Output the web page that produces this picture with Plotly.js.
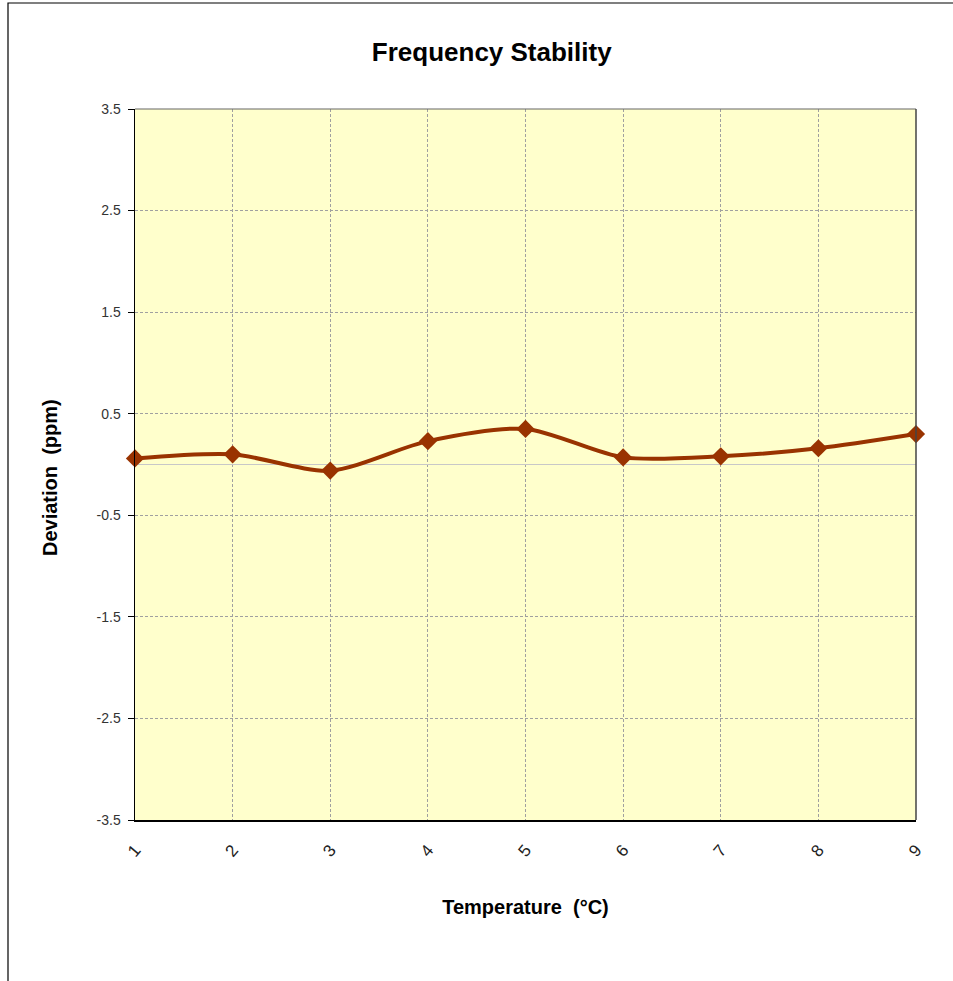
<!DOCTYPE html>
<html><head><meta charset="utf-8">
<script src="https://cdn.plot.ly/plotly-3.0.1.min.js"></script>
<style>body{margin:0;padding:0;background:#fff}#chart{width:953px;height:981px}</style>
</head><body><div id="chart"></div>
<script>
const temperatures = [1, 2, 3, 4, 5, 6, 7, 8, 9];
const deviation = [0.06, 0.10, -0.06, 0.23, 0.35, 0.07, 0.08, 0.16, 0.30];
const yTicks = [-3.5, -2.5, -1.5, -0.5, 0.5, 1.5, 2.5, 3.5];

const trace = {
  x: temperatures, y: deviation, type: 'scatter', mode: 'lines+markers',
  line: {color: '#993300', width: 4, shape: 'spline', smoothing: 0.8},
  marker: {symbol: 'diamond', size: 14, color: '#993300'},
  cliponaxis: false, hoverinfo: 'skip'
};
const layout = {
  width: 953, height: 981,
  margin: {l: 135, r: 37, t: 109, b: 161},
  paper_bgcolor: '#ffffff', plot_bgcolor: '#FFFFCC',
  showlegend: false,
  font: {family: 'Liberation Sans, Arial, sans-serif', color: '#000'},
  title: {text: '<b>Frequency Stability</b>', font: {size: 26, color: '#000'}, x: 0.516, xanchor: 'center', y: 0.947, yanchor: 'middle'},
  xaxis: {
    range: [1, 9], tickvals: temperatures, ticktext: temperatures.map(String),
    tickangle: -50, tickfont: {size: 17, color: '#222'},
    showgrid: true, gridcolor: '#a0a0a0', griddash: '3px,2px', gridwidth: 1,
    zeroline: false, showline: true, linecolor: '#000', linewidth: 1.5, mirror: false,
    ticks: '', ticklen: 0, ticklabelstandoff: 12,
    title: {text: '<b>Temperature  (°C)</b>', font: {size: 20, color: '#000'}, standoff: 40}
  },
  yaxis: {
    range: [-3.5, 3.5], tickvals: yTicks, ticktext: yTicks.map(String),
    tickfont: {size: 14, color: '#333'},
    showgrid: true, gridcolor: '#a0a0a0', griddash: '3px,2px', gridwidth: 1,
    zeroline: true, zerolinecolor: '#c8c8c8', zerolinewidth: 1.5,
    showline: true, linecolor: '#000', linewidth: 1.5,
    ticks: 'outside', ticklen: 6, tickcolor: '#000', ticklabelstandoff: 4
  },
  annotations: [
    {text: '<b>Deviation  (ppm)</b>', xref: 'paper', yref: 'paper',
     x: -85/781, y: 1 - (478 - 109) / 711, xanchor: 'center', yanchor: 'middle',
     textangle: -90, showarrow: false, font: {size: 20, color: '#000'}}
  ],
  shapes: [
    {type: 'line', xref: 'paper', yref: 'paper', x0: 0, x1: 1, y0: 1, y1: 1,
     line: {color: '#666', width: 1.2}},
    {type: 'line', xref: 'paper', yref: 'paper', x0: 1, x1: 1, y0: 0, y1: 1,
     line: {color: '#444', width: 1.5}},
    {type: 'rect', xref: 'paper', yref: 'paper', x0: -127/781, x1: 1.06, y0: -0.3, y1: 1 + 106/711,
     line: {color: '#000', width: 1.2}, fillcolor: 'rgba(0,0,0,0)'}
  ]
};
Plotly.newPlot('chart', [trace], layout, {staticPlot: true});
</script></body></html>
